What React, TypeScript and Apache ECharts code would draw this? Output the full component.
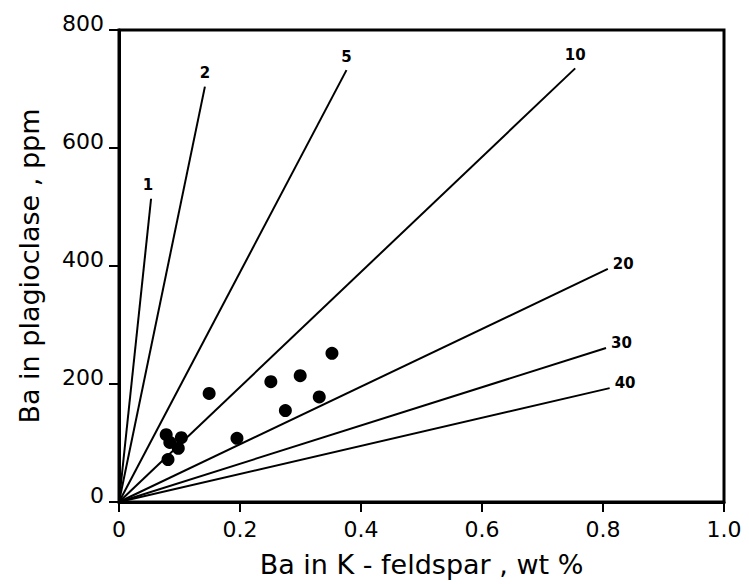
import React, { useEffect, useRef } from 'react';
import * as echarts from 'echarts';

// Reference lines (constant Kfs/plagioclase ratio), drawn from the origin to the end point
const lineLabels = ['1', '2', '5', '10', '20', '30', '40'];
const lineEndX = [0.053, 0.142, 0.376, 0.754, 0.808, 0.805, 0.811];
const lineEndY = [514, 704, 732, 735, 395, 261, 193];

// Samples: Ba in K-feldspar (wt %) vs Ba in plagioclase (ppm)
const sampleX = [0.352, 0.2995, 0.251, 0.149, 0.331, 0.275, 0.195, 0.078, 0.103, 0.084, 0.098, 0.081];
const sampleY = [252, 214, 204, 184, 178, 155, 108, 114, 109, 101, 91, 72];

const xTickLabels = ['0', '0.2', '0.4', '0.6', '0.8', '1.0'];
const yTickLabels = ['0', '200', '400', '600', '800'];

const FONT = 'DejaVu Sans';

export default function App() {
  const ref = useRef<HTMLDivElement>(null);
  useEffect(() => {
    if (!ref.current) return;
    const chart = echarts.init(ref.current, undefined, { renderer: 'svg' });

    const lineSeries = lineLabels.map((lab, i) => {
      const steep = Number(lab) <= 10;
      return {
        type: 'line',
        name: 'D=' + lab,
        data: [
          { value: [0, 0] },
          {
            value: [lineEndX[i], lineEndY[i]],
            label: {
              show: true,
              formatter: lab,
              position: steep ? 'top' : 'right',
              distance: steep ? 6 : 5,
              offset: steep ? (i === 0 ? [-3, 0] : [0, 0]) : [0, -5],
              color: '#000',
              fontFamily: FONT,
              fontWeight: 'bold',
              fontSize: 15,
            },
          },
        ],
        showSymbol: true,
        symbol: 'circle',
        symbolSize: 0,
        lineStyle: { color: '#000', width: 2 },
        itemStyle: { color: '#000' },
        silent: true,
        z: 2,
      };
    });

    chart.setOption({
      animation: false,
      backgroundColor: '#fff',
      grid: {
        left: 119,
        top: 30,
        width: 605,
        height: 472,
        show: true,
        borderColor: '#000',
        borderWidth: 3,
        containLabel: false,
      },
      xAxis: {
        type: 'value',
        min: 0,
        max: 1,
        interval: 0.2,
        name: 'Ba in K - feldspar , wt %',
        nameLocation: 'middle',
        nameGap: 49,
        nameTextStyle: { color: '#000', fontFamily: FONT, fontSize: 27 },
        axisLine: { show: true, lineStyle: { color: '#000', width: 3 } },
        axisTick: { show: true, inside: false, length: 10, lineStyle: { color: '#000', width: 2 } },
        axisLabel: {
          color: '#000',
          fontFamily: FONT,
          fontSize: 22,
          margin: 16,
          formatter: (v: number) => xTickLabels[Math.round(v / 0.2)] ?? '',
        },
        splitLine: { show: false },
      },
      yAxis: {
        type: 'value',
        min: 0,
        max: 800,
        interval: 200,
        name: 'Ba in plagioclase , ppm',
        nameLocation: 'middle',
        nameGap: 76,
        nameTextStyle: { color: '#000', fontFamily: FONT, fontSize: 27 },
        axisLine: { show: true, lineStyle: { color: '#000', width: 3 } },
        axisTick: { show: true, inside: false, length: 10, lineStyle: { color: '#000', width: 2 } },
        axisLabel: {
          color: '#000',
          fontFamily: FONT,
          fontSize: 22,
          margin: 15,
          verticalAlign: 'bottom',
          lineHeight: 14,
          formatter: (v: number) => yTickLabels[Math.round(v / 200)] ?? '',
        },
        splitLine: { show: false },
      },
      series: [
        ...lineSeries,
        {
          type: 'scatter',
          name: 'samples',
          data: sampleX.map((x, i) => [x, sampleY[i]]),
          symbol: 'circle',
          symbolSize: 13,
          itemStyle: { color: '#000', opacity: 1 },
          z: 3,
        },
      ],
    });
    return () => chart.dispose();
  }, []);
  return (
    <div
      ref={ref}
      style={{ position: 'fixed', left: 0, top: 0, width: 749, height: 584, background: '#fff' }}
    />
  );
}
